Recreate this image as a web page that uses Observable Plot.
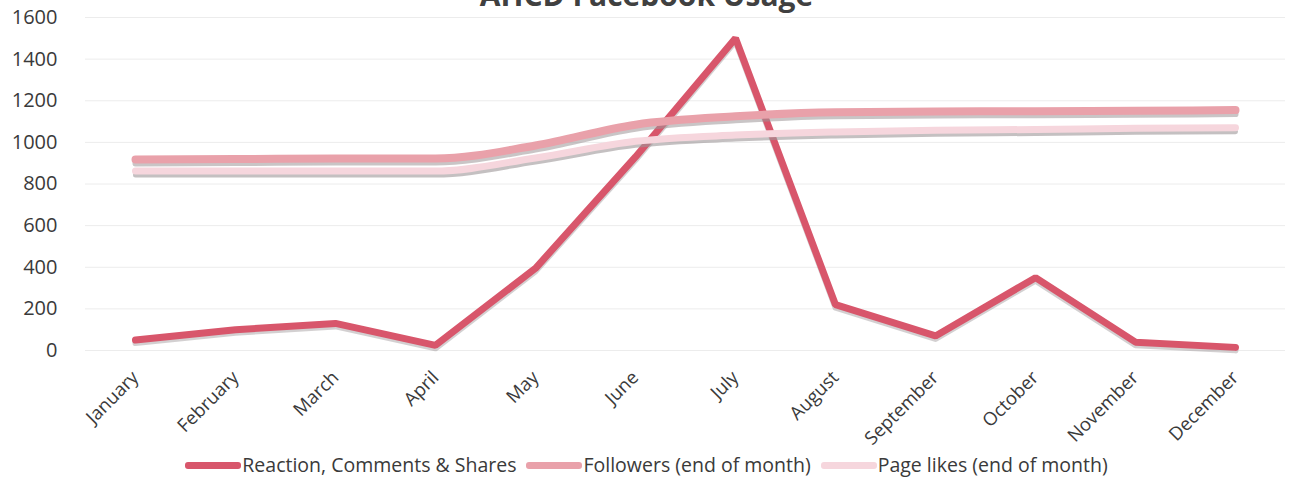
<!DOCTYPE html>
<html>
<head>
<meta charset="utf-8">
<script src="https://cdn.jsdelivr.net/npm/d3@7"></script>
<script src="https://cdn.jsdelivr.net/npm/@observablehq/plot@0.6"></script>
<style>
  html, body { margin:0; padding:0; background:#fff; overflow:hidden; }
  #wrap { position:relative; width:1293px; height:478px; font-family:"Open Sans", sans-serif; color:#404040; }
  #title { position:absolute; left:0; top:-20px; width:1293px; text-align:center; font-weight:700; font-size:30px; line-height:30px; color:#404040; }
  #chart { position:absolute; left:0; top:0; }
  #legend { position:absolute; left:0; top:452px; width:1293px; display:flex; justify-content:center; align-items:center; font-size:19.5px; line-height:26px; color:#3a3a3a; }
  .item { display:flex; align-items:center; margin:0 5px; }
  .sw { width:56px; height:7px; border-radius:3px; margin-right:1px; }
</style>
</head>
<body>
<div id="wrap">
  <div id="chart"></div>
  <div id="title">AHCD Facebook Usage</div>
  <div id="legend"></div>
</div>
<script>
const months = ["January","February","March","April","May","June","July","August","September","October","November","December"];
const reactions = [50, 100, 130, 25, 395, 930, 1500, 220, 70, 350, 40, 15];
const followers = [918, 920, 922, 922, 985, 1085, 1125, 1145, 1148, 1150, 1152, 1155];
const pageLikes = [862, 862, 862, 862, 925, 1005, 1035, 1050, 1058, 1062, 1068, 1070];
const yTicks = [0, 200, 400, 600, 800, 1000, 1200, 1400, 1600];
const seriesNames = ["Reaction, Comments & Shares", "Followers (end of month)", "Page likes (end of month)"];
const seriesColors = ["#d8566b", "#e9a1aa", "#f6d6dd"];

const toRows = (vals, name) => months.map((m, i) => ({month: m, value: vals[i], series: name}));
const rReact = toRows(reactions, seriesNames[0]);
const rFoll = toRows(followers, seriesNames[1]);
const rLikes = toRows(pageLikes, seriesNames[2]);

const chart = Plot.plot({
  width: 1293,
  height: 440,
  marginLeft: 85,
  marginRight: 8,
  marginTop: 17,
  marginBottom: 90,
  style: {fontFamily: "Open Sans", color: "#404040", background: "white", overflow: "visible"},
  x: {type: "point", domain: months, padding: 0.45, label: null},
  y: {domain: [0, 1600], label: null},
  marks: [
    Plot.ruleY(yTicks, {stroke: "#ececec", strokeWidth: 1}),
    Plot.axisY({ticks: yTicks, tickFormat: d => String(d), tickSize: 0, tickPadding: 28, fontSize: 20, fill: "#3a3a3a", label: null}),
    Plot.axisX({tickSize: 0, tickPadding: 24, tickRotate: -45, fontSize: 18.5, fill: "#3a3a3a", label: null}),
    // shadows
    Plot.line(rReact, {x: "month", y: "value", stroke: "#9d9698", strokeWidth: 6, strokeOpacity: 0.45, dy: 3}),
    Plot.line(rReact, {x: "month", y: "value", stroke: seriesColors[0], strokeWidth: 7, strokeLinejoin: "miter"}),
    Plot.line(rFoll, {x: "month", y: "value", stroke: "#9d9698", strokeWidth: 6, strokeOpacity: 0.55, dy: 4, curve: "monotone-x"}),
    Plot.line(rFoll, {x: "month", y: "value", stroke: seriesColors[1], strokeWidth: 8, curve: "monotone-x"}),
    Plot.line(rLikes, {x: "month", y: "value", stroke: "#9d9698", strokeWidth: 5, strokeOpacity: 0.6, dy: 4, curve: "monotone-x"}),
    Plot.line(rLikes, {x: "month", y: "value", stroke: seriesColors[2], strokeWidth: 7, curve: "monotone-x"})
  ]
});
document.getElementById("chart").appendChild(chart);

const legend = document.getElementById("legend");
seriesNames.forEach((n, i) => {
  const it = document.createElement("div");
  it.className = "item";
  const sw = document.createElement("div");
  sw.className = "sw";
  sw.style.background = seriesColors[i];
  const t = document.createElement("span");
  t.textContent = n;
  it.appendChild(sw); it.appendChild(t);
  legend.appendChild(it);
});
</script>
</body>
</html>
